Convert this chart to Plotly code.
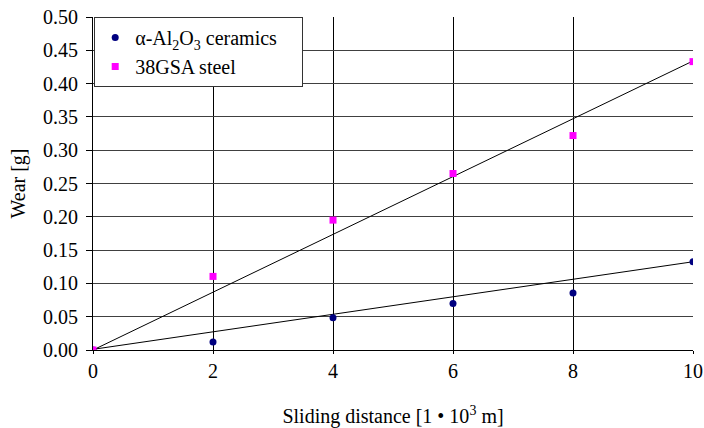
import plotly.graph_objects as go

distance = [0, 2, 4, 6, 8, 10]
al2o3_wear = [0.0, 0.012, 0.0485, 0.070, 0.0855, 0.1325]
steel_wear = [0.0, 0.1105, 0.195, 0.265, 0.322, 0.433]

trend_x = [0, 10]
al2o3_trend = [0.001, 0.1325]
steel_trend = [0.0, 0.434]

x_ticks = [0, 2, 4, 6, 8, 10]
y_ticks = [0.0, 0.05, 0.10, 0.15, 0.20, 0.25, 0.30, 0.35, 0.40, 0.45, 0.50]
y_tick_text = ["0.00", "0.05", "0.10", "0.15", "0.20", "0.25", "0.30", "0.35", "0.40", "0.45", "0.50"]

FONT = "Liberation Serif"
PAD = "\u00a0" * 4

fig = go.Figure()
fig.add_trace(go.Scatter(x=trend_x, y=al2o3_trend, mode="lines",
                         line=dict(color="black", width=1), showlegend=False, hoverinfo="skip"))
fig.add_trace(go.Scatter(x=trend_x, y=steel_trend, mode="lines",
                         line=dict(color="black", width=1), showlegend=False, hoverinfo="skip"))
fig.add_trace(go.Scatter(x=distance, y=al2o3_wear, mode="markers",
                         name="α-Al<sub>2</sub>O<sub>3</sub> ceramics" + PAD,
                         marker=dict(symbol="circle", color="#000080", size=7)))
fig.add_trace(go.Scatter(x=distance, y=steel_wear, mode="markers",
                         name="38GSA steel",
                         marker=dict(symbol="square", color="#FF00FF", size=7)))

fig.update_layout(
    width=704, height=428,
    margin=dict(l=93, r=11, t=17, b=78),
    paper_bgcolor="white", plot_bgcolor="white",
    font=dict(family=FONT, size=20, color="black"),
    legend=dict(x=0.002, y=1.0, xanchor="left", yanchor="top",
                bgcolor="white", bordercolor="#333333", borderwidth=1,
                font=dict(family=FONT, size=20, color="black"),
                tracegroupgap=0, itemwidth=30),
    xaxis=dict(range=[0, 10], tickvals=x_ticks, ticktext=[str(v) for v in x_ticks],
               showgrid=True, gridcolor="black", gridwidth=1,
               showline=True, linecolor="black", linewidth=1,
               ticks="outside", ticklen=3, tickcolor="black",
               zeroline=False, fixedrange=True, automargin=False,
               title=dict(text="Sliding distance [1 • 10<sup>3</sup> m]", standoff=31,
                          font=dict(family=FONT, size=20))),
    yaxis=dict(range=[0, 0.5], tickvals=y_ticks, ticktext=y_tick_text,
               showgrid=True, gridcolor="#404040", gridwidth=1,
               showline=True, linecolor="black", linewidth=1,
               ticks="outside", ticklen=6, tickcolor="black",
               zeroline=False, fixedrange=True, automargin=False,
               ticklabelstandoff=4,
               title=dict(text="Wear [g]", standoff=12, font=dict(family=FONT, size=20))),
)

fig.write_html("out.html")
